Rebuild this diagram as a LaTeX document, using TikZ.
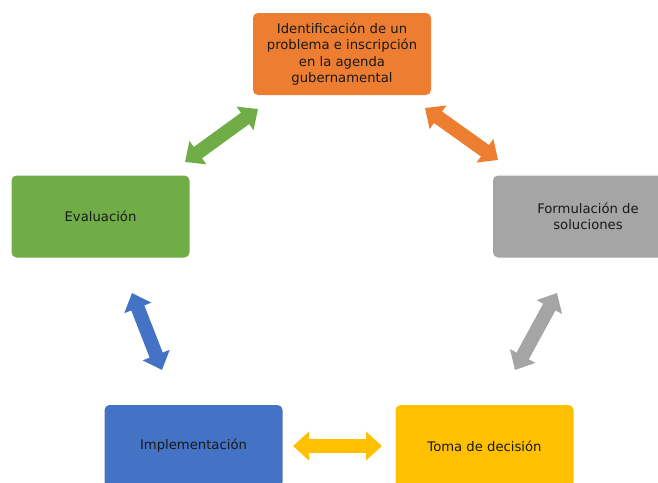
\documentclass[tikz,border=0pt]{standalone}
\usepackage{fontspec}
\setmainfont{DejaVu Sans}
\usetikzlibrary{arrows.meta}

\definecolor{naranja}{HTML}{ED7D31}
\definecolor{verde}{HTML}{70AD47}
\definecolor{gris}{HTML}{A5A5A5}
\definecolor{azul}{HTML}{4472C4}
\definecolor{amarillo}{HTML}{FFC000}

\tikzset{
  caja/.style={rounded corners=5pt, minimum width=178pt, minimum height=82pt,
    align=center, text=black!90, font=\fontsize{13.2}{16.2}\selectfont},
  flecha/.style={line width=14pt,
    {Triangle[length=16pt,width=28pt]}-{Triangle[length=16pt,width=28pt]}}
}

\begin{document}
\begin{tikzpicture}[x=1pt,y=-1pt]
  \useasboundingbox (0,0) rectangle (658,482);
  % cajas
  \node[caja,fill=naranja] (iden) at (342,54) {Identificación de un\\problema e inscripción\\en la agenda\\gubernamental};
  \node[caja,fill=gris,minimum width=190pt] (form) at (588,216.5) {Formulación de\\soluciones};
  \node[caja,fill=amarillo] (toma) at (484.5,446) {Toma de decisión};
  \node[caja,fill=azul] (impl) at (193.5,446) {Implementación};
  \node[caja,fill=verde] (eval) at (100.5,216.5) {Evaluación};
  % extremos de las flechas
  \coordinate (v1) at (185,162);
  \coordinate (v2) at (258,109);
  \coordinate (n1) at (425,108);
  \coordinate (n2) at (498,160);
  \coordinate (g1) at (557,293);
  \coordinate (g2) at (515,370);
  \coordinate (a1) at (382,446);
  \coordinate (a2) at (293,446);
  \coordinate (z1) at (162,370);
  \coordinate (z2) at (132,293);
  \draw[flecha,verde] (v1) -- (v2);
  \draw[flecha,naranja] (n1) -- (n2);
  \draw[flecha,gris] (g1) -- (g2);
  \draw[flecha,amarillo] (a1) -- (a2);
  \draw[flecha,azul] (z1) -- (z2);
\end{tikzpicture}
\end{document}
